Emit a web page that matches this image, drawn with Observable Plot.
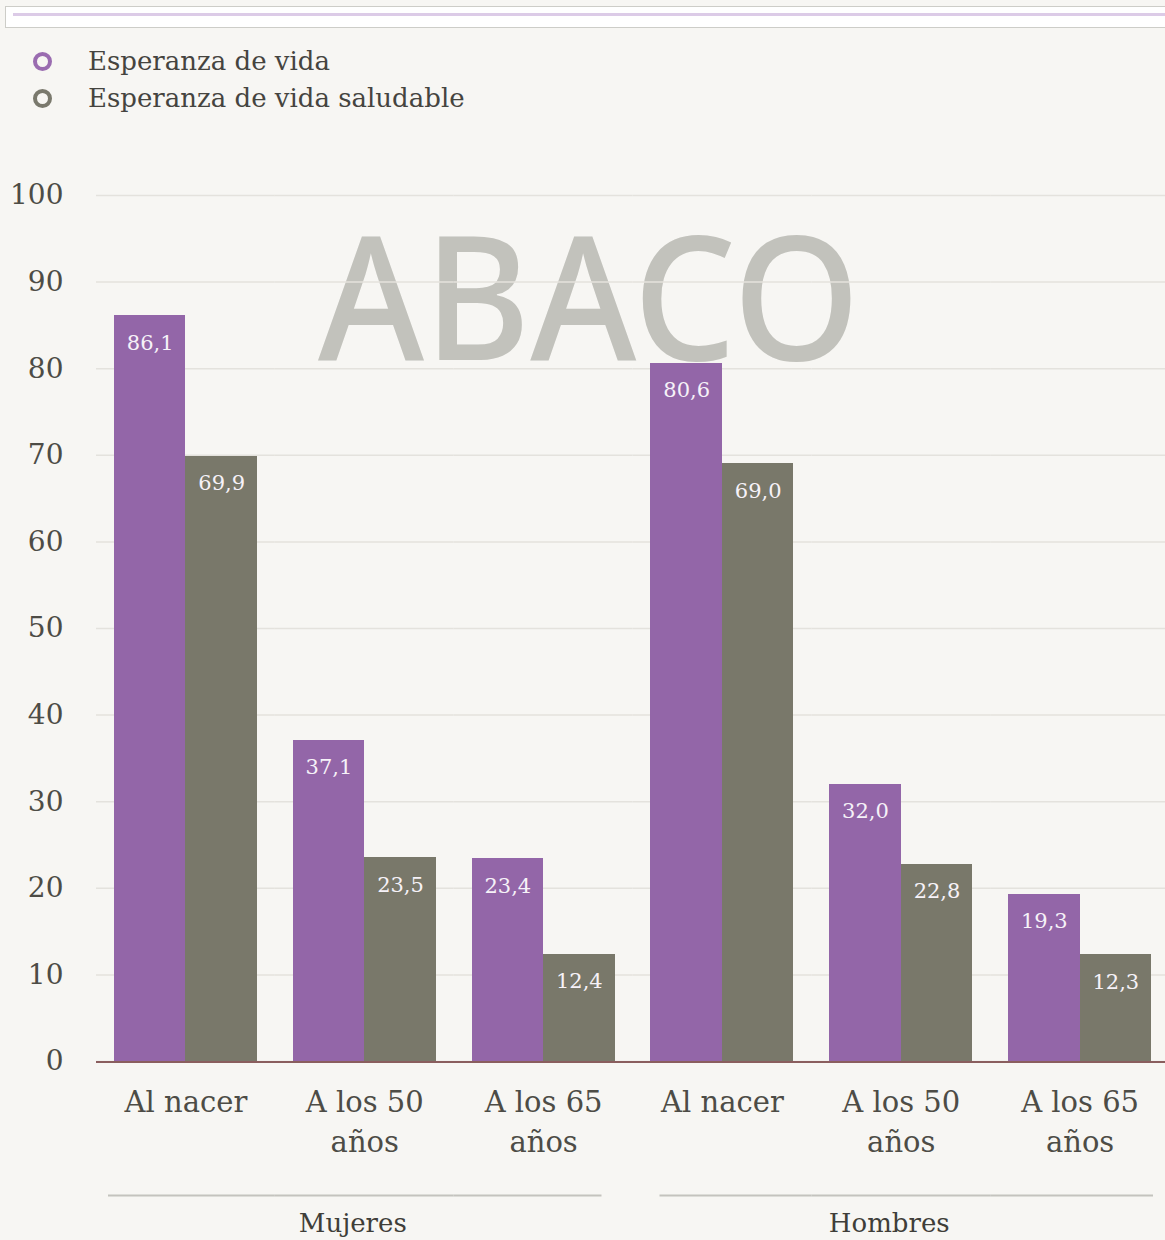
<!DOCTYPE html>
<html lang="es">
<head>
<meta charset="utf-8">
<script src="https://cdn.jsdelivr.net/npm/d3@7"></script>
<script src="https://cdn.jsdelivr.net/npm/@observablehq/plot@0.6"></script>
<style>
  html, body { margin: 0; padding: 0; }
  body { width: 1165px; height: 1240px; overflow: hidden; position: relative; background: #f7f6f3; font-family: "DejaVu Serif", serif; }
  .topbox { position: absolute; left: 5px; top: 6px; width: 1175px; height: 20px; border: 1px solid #cdcdc8; background: #ffffff; }
  .topbox .line { position: absolute; left: 7px; right: 0; top: 6px; height: 3px; background: #dccbe7; }
  .legend { position: absolute; left: 0; top: 0; }
  .legend .item { position: absolute; left: 0; height: 30px; white-space: nowrap; }
  .legend .dot { position: absolute; left: 33px; top: 0; width: 11px; height: 11px; border: 4px solid; border-radius: 50%; box-sizing: content-box; }
  .legend .lab { position: absolute; left: 88px; top: -4px; font-size: 26px; line-height: 26px; color: #45443f; }
  .logo { position: absolute; left: 0; top: 0; }
  #chart { position: absolute; left: 0; top: 150px; }
</style>
</head>
<body>
<div class="topbox"><div class="line"></div></div>
<svg class="logo" width="1165" height="460">
  <text x="318" y="360" font-family="'Noto Sans', sans-serif" font-weight="500" font-size="172" fill="#c2c2bc" textLength="542" lengthAdjust="spacingAndGlyphs">ABACO</text>
</svg>
<div class="legend" id="legend"></div>
<div id="chart"></div>
<script>
// ---- data ----
const groups = ["Mujeres", "Hombres"];
const ages = ["Al nacer", "A los 50 años", "A los 65 años"];
const ageLabels = ["Al nacer", "A los 50\naños", "A los 65\naños"];
const series = ["Esperanza de vida", "Esperanza de vida saludable"];
const seriesColors = ["#9366a8", "#79786a"];
const legendColors = ["#9a6cb0", "#7a796d"];
// order: Mujeres (Al nacer, 50, 65), Hombres (Al nacer, 50, 65)
const lifeExpectancy = [86.1, 37.1, 23.4, 80.6, 32.0, 19.3];
const healthyLifeExpectancy = [69.9, 23.5, 12.4, 69.0, 22.8, 12.3];
const yTicks = [0, 10, 20, 30, 40, 50, 60, 70, 80, 90, 100];

// ---- tables built from the arrays ----
const keys = groups.flatMap(g => ages.map(a => `${g} · ${a}`));
const ageLabelOf = new Map(keys.map((k, i) => [k, ageLabels[i % ages.length]]));
const rows = keys.flatMap((k, i) => [
  {key: k, series: series[0], value: lifeExpectancy[i]},
  {key: k, series: series[1], value: healthyLifeExpectancy[i]}
]);
const groupRows = keys.map((k, i) => ({
  key: k,
  group: groups[Math.floor(i / ages.length)],
  pos: i % ages.length === 0 ? "first" : i % ages.length === ages.length - 1 ? "last" : "mid"
}));
const groupLabelRows = groupRows.filter(d => d.pos === "mid");
const fmt = v => v.toFixed(1).replace(".", ",");

// ---- legend ----
const legend = document.getElementById("legend");
series.forEach((s, i) => {
  const item = document.createElement("div");
  item.className = "item";
  item.style.top = (52 + i * 37) + "px";
  item.innerHTML = `<span class="dot" style="border-color:${legendColors[i]}"></span><span class="lab">${s}</span>`;
  legend.appendChild(item);
});

// ---- group bracket styling (insets of the rule under each group) ----
const ruleStyle = {stroke: "#c4c3be", strokeWidth: 2, dy: 134};
const bracketInsets = {Mujeres: {left: 12, right: 31}, Hombres: {left: 27, right: 16}};
const bracketMarks = groups.flatMap(g => [
  Plot.ruleY(groupRows.filter(d => d.group === g && d.pos === "first"), {fx: "key", y: () => 0, insetLeft: bracketInsets[g].left, ...ruleStyle}),
  Plot.ruleY(groupRows.filter(d => d.group === g && d.pos === "mid"), {fx: "key", y: () => 0, ...ruleStyle}),
  Plot.ruleY(groupRows.filter(d => d.group === g && d.pos === "last"), {fx: "key", y: () => 0, insetRight: bracketInsets[g].right, ...ruleStyle})
]);

// ---- chart ----
const chart = Plot.plot({
  width: 1165,
  height: 1090,
  marginTop: 45,
  marginBottom: 179,
  marginLeft: 96,
  marginRight: -4,
  style: {background: "transparent", fontFamily: "'DejaVu Serif', serif", color: "#4d4c46"},
  fx: {domain: keys, padding: 0, round: false, label: null},
  x: {domain: series, paddingInner: 0, paddingOuter: 0.25, round: false, axis: null},
  y: {domain: [0, 100], label: null},
  color: {domain: series, range: seriesColors},
  marks: [
    Plot.gridY(yTicks, {stroke: "#e4e2dd", strokeOpacity: 1, strokeWidth: 1.5}),
    Plot.axisY(yTicks, {tickSize: 0, tickPadding: 33, fontSize: 28, label: null, fill: "#4d4c46"}),
    Plot.barY(rows, {fx: "key", x: "series", y: "value", fill: "series", shapeRendering: "crispEdges"}),
    Plot.text(rows, {fx: "key", x: "series", y: "value", text: d => fmt(d.value), dy: 27, fill: "#f6f2f8", fontSize: 21}),
    Plot.ruleY([0], {stroke: "#8a5e5e", strokeWidth: 2, shapeRendering: "crispEdges"}),
    Plot.axisFx({anchor: "bottom", tickSize: 0, tickPadding: 22, fontSize: 29, lineHeight: 1.38, tickFormat: k => ageLabelOf.get(k), label: null, fill: "#4d4c46"}),
    ...bracketMarks,
    Plot.text(groupLabelRows, {fx: "key", text: "group", frameAnchor: "bottom", dy: 170, dx: -12, fontSize: 26, fill: "#3f3e39"})
  ]
});
document.getElementById("chart").appendChild(chart);
</script>
</body>
</html>
